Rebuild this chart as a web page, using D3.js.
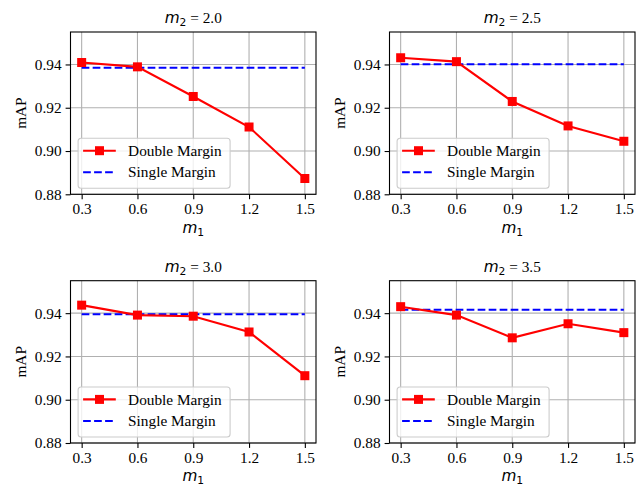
<!DOCTYPE html>
<html>
<head>
<meta charset="utf-8">
<script src="https://cdn.jsdelivr.net/npm/d3@7"></script>
<style>
  body { margin: 0; background: #fff; }
  svg { display: block; }
  .tick text { font-family: "Liberation Serif", "Times New Roman", serif; font-size: 15.3px; fill: #000; }
  .tick line { stroke: #000; stroke-width: 1.1px; }
  .domain { display: none; }
</style>
</head>
<body>
<script>
// values
var m1Values = [0.3, 0.6, 0.9, 1.2, 1.5];
var m2Labels = ["2.0", "2.5", "3.0", "3.5"];
var doubleMargin = [
    [0.9409, 0.9389, 0.9252, 0.9111, 0.8873],
    [0.9431, 0.9413, 0.9229, 0.9116, 0.9045],
    [0.9437, 0.9391, 0.9386, 0.9313, 0.9111],
    [0.9430, 0.9391, 0.9286, 0.9351, 0.9310]
];
var singleMargin = [0.9385, 0.9401, 0.9395, 0.9416];
var yTicks = [0.88, 0.90, 0.92, 0.94];
var seriesNames = ["Double Margin", "Single Margin"];

window.onload = drawFigure();

function drawFigure(){
    var width = 643,
        height = 486;

    var svg = d3.select("body")
        .append("svg")
        .attr("width", width)
        .attr("height", height);

    //panel frame positions
    var cols = [70.5, 389.5],
        rows = [32, 280.7],
        pw = 245.5,
        ph = 162.3;

    var serif = '"Liberation Serif", "Times New Roman", serif';
    var sans = '"DejaVu Sans", sans-serif';

    m2Labels.forEach(function(lab, i){
        var x0 = cols[i % 2],
            y0 = rows[Math.floor(i / 2)];

        var g = svg.append("g")
            .attr("transform", "translate(" + x0 + "," + y0 + ")");

        var x = d3.scaleLinear().domain([0.24, 1.56]).range([0, pw]);
        var y = d3.scaleLinear().domain([0.88, 0.955]).range([ph, 0]);

        //grid
        g.selectAll(".gx").data(m1Values).enter().append("line")
            .attr("x1", function(d){ return x(d); })
            .attr("x2", function(d){ return x(d); })
            .attr("y1", 0).attr("y2", ph)
            .attr("stroke", "#b0b0b0").attr("stroke-width", 1.1);
        g.selectAll(".gy").data(yTicks).enter().append("line")
            .attr("y1", function(d){ return y(d); })
            .attr("y2", function(d){ return y(d); })
            .attr("x1", 0).attr("x2", pw)
            .attr("stroke", "#b0b0b0").attr("stroke-width", 1.1);

        //axes
        g.append("g")
            .attr("transform", "translate(0," + ph + ")")
            .call(d3.axisBottom(x).tickValues(m1Values).tickFormat(d3.format(".1f")).tickSize(4.9).tickPadding(4));
        g.append("g")
            .call(d3.axisLeft(y).tickValues(yTicks).tickFormat(d3.format(".2f")).tickSize(4.9).tickPadding(4));

        //single margin
        g.append("line")
            .attr("x1", x(m1Values[0]))
            .attr("x2", x(m1Values[m1Values.length - 1]))
            .attr("y1", y(singleMargin[i]))
            .attr("y2", y(singleMargin[i]))
            .attr("stroke", "#0000ff")
            .attr("stroke-width", 2.1)
            .attr("stroke-dasharray", "7.7,3.3");

        //double margin
        var pts = m1Values.map(function(d, j){ return [d, doubleMargin[i][j]]; });
        var line = d3.line()
            .x(function(d){ return x(d[0]); })
            .y(function(d){ return y(d[1]); });
        g.append("path")
            .datum(pts)
            .attr("d", line)
            .attr("fill", "none")
            .attr("stroke", "#ff0000")
            .attr("stroke-width", 2.1);
        g.selectAll(".mk").data(pts).enter().append("rect")
            .attr("x", function(d){ return x(d[0]) - 4.5; })
            .attr("y", function(d){ return y(d[1]) - 4.5; })
            .attr("width", 9).attr("height", 9)
            .attr("fill", "#ff0000");

        //frame
        g.append("rect")
            .attr("width", pw).attr("height", ph)
            .attr("fill", "none")
            .attr("stroke", "#000")
            .attr("stroke-width", 1.1);

        //legend
        var lx = 7.6, ly = ph - 56;
        var leg = g.append("g").attr("transform", "translate(" + lx + "," + ly + ")");
        leg.append("rect")
            .attr("width", 152).attr("height", 50)
            .attr("rx", 3)
            .attr("fill", "#fff").attr("fill-opacity", 0.8)
            .attr("stroke", "#cccccc").attr("stroke-width", 1.1);
        leg.append("line")
            .attr("x1", 5).attr("x2", 37.7).attr("y1", 12.4).attr("y2", 12.4)
            .attr("stroke", "#ff0000").attr("stroke-width", 2.1);
        leg.append("rect")
            .attr("x", 21.4 - 4.5).attr("y", 12.4 - 4.5)
            .attr("width", 9).attr("height", 9)
            .attr("fill", "#ff0000");
        leg.append("line")
            .attr("x1", 5).attr("x2", 37.7).attr("y1", 34).attr("y2", 34)
            .attr("stroke", "#0000ff").attr("stroke-width", 2.1)
            .attr("stroke-dasharray", "7.7,3.3");
        leg.selectAll(".lt").data(seriesNames).enter().append("text")
            .attr("x", 50)
            .attr("y", function(d, k){ return k === 0 ? 17.6 : 39.2; })
            .attr("font-family", serif)
            .attr("font-size", "15.3px")
            .text(function(d){ return d; });

        //title
        var t = g.append("text")
            .attr("x", pw / 2)
            .attr("y", -9)
            .attr("text-anchor", "middle")
            .attr("font-size", "15.3px");
        t.append("tspan").attr("font-family", sans).attr("font-style", "italic").text("m");
        t.append("tspan").attr("font-family", sans).attr("font-size", "10.7px").attr("dy", 3).text("2");
        t.append("tspan").attr("font-family", serif).attr("dy", -3).text(" = " + lab);

        //x label
        var xl = g.append("text")
            .attr("x", pw / 2)
            .attr("y", ph + 38.5)
            .attr("text-anchor", "middle")
            .attr("font-family", sans)
            .attr("font-size", "15.3px");
        xl.append("tspan").attr("font-style", "italic").text("m");
        xl.append("tspan").attr("font-size", "10.7px").attr("dy", 3).text("1");

        //y label
        g.append("text")
            .attr("transform", "translate(-45," + (ph / 2) + ") rotate(-90)")
            .attr("text-anchor", "middle")
            .attr("font-family", serif)
            .attr("font-size", "15.3px")
            .text("mAP");
    });
};
</script>
</body>
</html>
